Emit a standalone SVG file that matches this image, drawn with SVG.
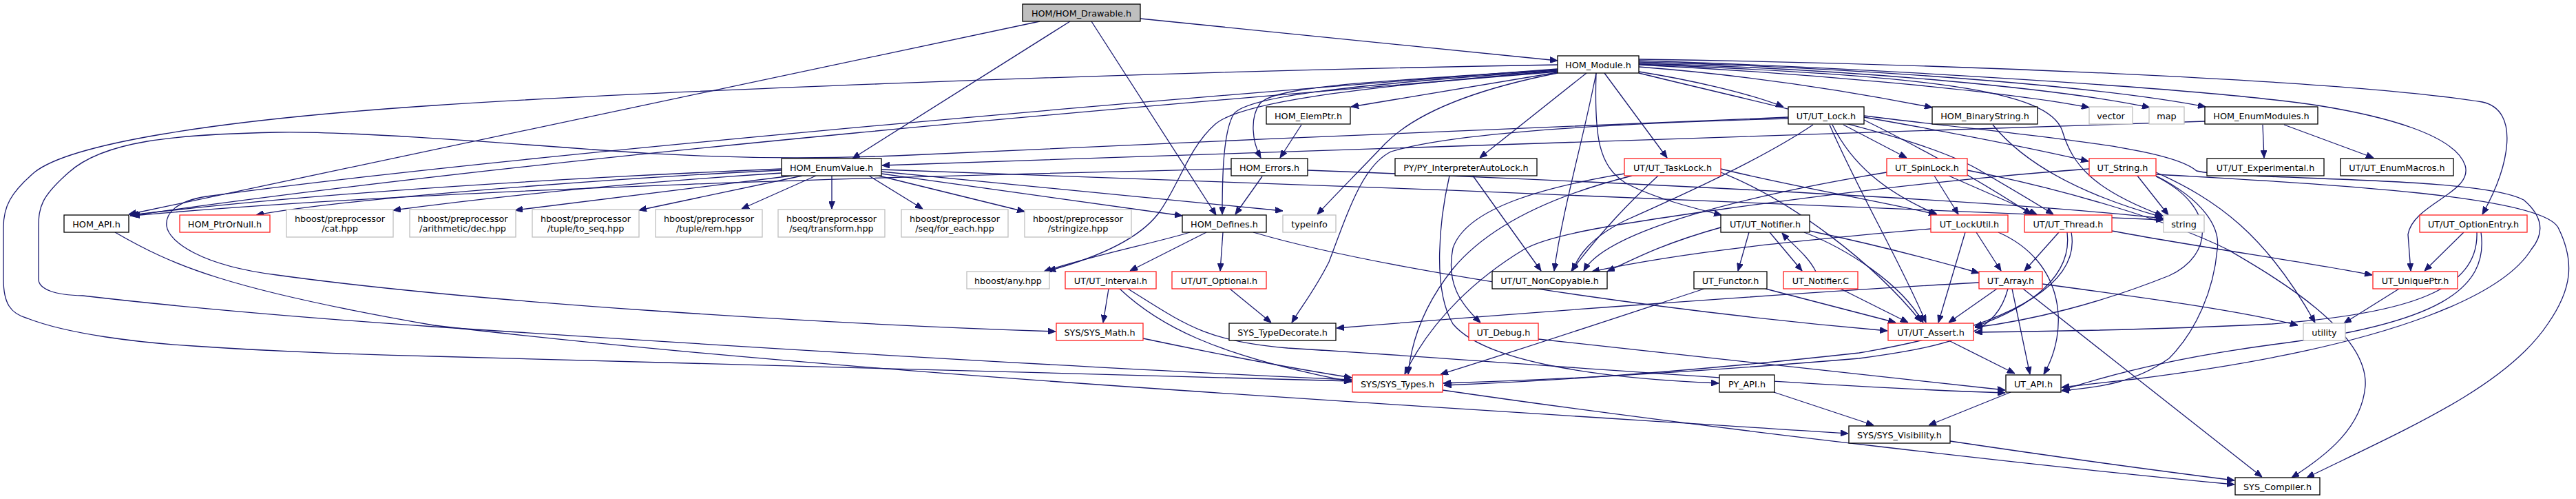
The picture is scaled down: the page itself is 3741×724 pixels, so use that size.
<svg xmlns="http://www.w3.org/2000/svg" width="3741" height="724" viewBox="0 0 3741 724">
<style>
rect{fill:#fff;stroke:#000;stroke-width:1.3}
rect.r{stroke:#ff2020}
rect.g{stroke:#bfbfbf}
rect.root{fill:#bfbfbf}
text{font-family:"DejaVu Sans",sans-serif;font-size:12.8px;fill:#000;text-anchor:middle}
#edges path{fill:none;stroke:#191970;stroke-width:1.3;marker-end:url(#a)}
</style>
<defs>
<marker id="a" viewBox="0 0 11 9" refX="11" refY="4.5" markerWidth="11" markerHeight="9" markerUnits="userSpaceOnUse" orient="auto"><path d="M0,0 L11,4.5 L0,9 z" fill="#191970" stroke="#191970"/></marker>
</defs>
<rect x="0" y="0" width="3741" height="724" style="fill:#fff;stroke:none"/>
<g id="edges">
<path d="M1510,31 L187,311"/>
<path d="M1554,31 L1238,230"/>
<path d="M1585,31 L1766,312"/>
<path d="M1656,27 L2262,88"/>
<path d="M2262,94 C1600,105 900,135 630,153 C300,175 100,210 50,250 C15,280 5,300 5,330 L5,405 C5,440 15,455 40,462 C100,485 200,497 281,502 C400,510 500,514 630,517 L1963,553"/>
<path d="M2262,104 C1700,150 800,225 189,313"/>
<path d="M2262,101 C2000,118 1850,125 1830,150 C1815,170 1818,205 1831,229"/>
<path d="M2262,102 C1950,124 1812,140 1792,165 C1776,190 1775,260 1775,311"/>
<path d="M2262,103 C1950,128 1800,150 1765,180 C1725,215 1712,270 1682,310 C1655,345 1600,372 1522,393"/>
<path d="M2262,105 L1962,155"/>
<path d="M2262,106 C2150,128 2060,160 2012,208 C1972,250 1937,285 1913,311"/>
<path d="M2304,106 L2149,229"/>
<path d="M2318,106 C2300,200 2270,300 2257,393"/>
<path d="M2330,106 L2421,229"/>
<path d="M2318,106 C2315,200 2322,240 2360,265 C2400,287 2460,302 2500,312"/>
<path d="M2380,104 C2450,115 2540,135 2590,155"/>
<path d="M2380,97 C2550,110 2700,135 2806,156"/>
<path d="M2380,94 C2600,105 2900,130 3034,156"/>
<path d="M2380,92 C2700,100 3000,130 3122,156"/>
<path d="M2380,90 C2700,98 3050,125 3203,155"/>
<path d="M2380,86 C2800,92 3400,115 3605,148 C3660,160 3645,240 3605,311"/>
<path d="M2380,88 C2700,98 3200,128 3366,153 C3460,168 3565,195 3580,240 C3592,280 3505,295 3497,340 L3501,393"/>
<path d="M2380,93 C2800,110 2975,130 2995,190 C3010,240 3040,275 3141,313"/>
<path d="M2380,106 C2600,160 2800,200 2880,250 C2940,285 2965,300 2982,311"/>
<path d="M2262,100 C1600,150 700,230 300,285 C255,292 240,310 242,328 C245,350 290,385 402,399 C700,440 1200,470 1533,481"/>
<path d="M1890,181 L1859,229"/>
<path d="M1833,256 L1794,311"/>
<path d="M1788,245 C1500,252 700,268 192,313"/>
<path d="M1899,247 C2300,262 2900,290 3142,317"/>
<path d="M1135,245 C900,255 500,275 190,312"/>
<path d="M1135,247 C900,258 500,288 372,312"/>
<path d="M1135,251 C900,266 700,288 571,305"/>
<path d="M1150,255 L748,305"/>
<path d="M1165,255 L928,305"/>
<path d="M1185,255 L1077,303"/>
<path d="M1208,255 L1208,303"/>
<path d="M1262,255 L1340,303"/>
<path d="M1276,255 L1488,307"/>
<path d="M1280,252 L1717,313"/>
<path d="M1280,249 L1863,306"/>
<path d="M1280,246 C1800,265 2800,300 3142,319"/>
<path d="M1728,337 C1680,352 1580,372 1516,394"/>
<path d="M1752,337 L1641,393"/>
<path d="M1776,337 L1772,393"/>
<path d="M1820,337 C2000,390 2400,450 2741,480"/>
<path d="M167,337 C250,385 330,420 630,472 C1200,540 2000,585 2684,629"/>
<path d="M2597,170 C2300,185 1700,205 1300,226 C1150,232 1000,228 861,217 C700,205 500,190 402,192 C250,195 150,205 100,250 C60,285 56,300 56,330 L56,405 C56,420 80,428 120,429 C300,450 500,465 630,474 C1100,505 1600,535 1963,551"/>
<path d="M2597,172 C2300,180 2100,195 2020,220 C1980,240 1960,300 1930,380 C1910,420 1890,445 1876,468"/>
<path d="M2657,181 C2700,280 2760,380 2797,468"/>
<path d="M2661,181 C2690,240 2740,280 2813,311"/>
<path d="M2677,181 L2769,229"/>
<path d="M2707,170 C2850,195 2950,215 3033,234"/>
<path d="M2707,174 C2800,220 2880,265 2950,311"/>
<path d="M2707,168 C2950,198 3150,212 3190,248 C3250,262 3600,255 3665,290 C3700,320 3690,345 3676,362 C3640,420 3500,500 3100,550 L2994,562"/>
<path d="M2633,181 C2560,230 2450,280 2360,320 C2310,345 2292,370 2284,393"/>
<path d="M2809,255 L2844,311"/>
<path d="M2830,255 L2958,311"/>
<path d="M2740,250 C2500,290 2330,340 2300,393"/>
<path d="M2857,247 C3000,275 3150,320 3235,362 C3300,400 3440,480 3435,560 C3430,620 3380,660 3328,693"/>
<path d="M3104,255 L3149,312"/>
<path d="M3034,245 C2800,262 2600,290 2490,305 C2350,325 2250,340 2213,362 C2150,400 2080,460 2040,543"/>
<path d="M3131,255 C3200,290 3225,330 3220,362 C3215,420 3190,480 3150,520 C3100,555 3050,562 2994,567"/>
<path d="M3131,253 C3400,268 3690,285 3715,330 C3740,380 3735,420 3700,470 C3640,560 3500,620 3350,693"/>
<path d="M3131,250 C3220,290 3290,340 3362,468"/>
<path d="M3131,256 C3220,300 3215,370 3150,400 C3050,440 2950,465 2868,475"/>
<path d="M2499,330 C2420,352 2380,372 2334,394"/>
<path d="M2540,337 L2524,393"/>
<path d="M2570,337 L2617,393"/>
<path d="M2628,335 C2700,350 2800,375 2874,396"/>
<path d="M2620,337 C2680,360 2760,410 2793,468"/>
<path d="M2637,394 C2625,370 2600,352 2588,338"/>
<path d="M2673,419 L2771,468"/>
<path d="M2564,419 L2753,468"/>
<path d="M2475,419 C2350,460 2200,510 2092,543"/>
<path d="M2900,419 L2830,468"/>
<path d="M2922,419 L2948,543"/>
<path d="M2874,410 C2600,425 2200,455 1941,476"/>
<path d="M2938,419 L3285,692"/>
<path d="M2966,412 C3100,430 3250,450 3337,472"/>
<path d="M2916,419 C2900,480 2850,500 2700,520 C2400,545 2200,553 2096,556"/>
<path d="M2854,337 L2815,468"/>
<path d="M2870,337 L2906,393"/>
<path d="M2902,337 C3000,380 3005,480 2968,543"/>
<path d="M2804,332 C2600,350 2450,365 2312,394"/>
<path d="M2990,337 L2940,393"/>
<path d="M3002,337 C3010,400 2950,445 2868,474"/>
<path d="M3008,337 C3020,400 2950,470 2700,512 C2400,545 2200,555 2097,559"/>
<path d="M3067,335 C3200,360 3350,380 3445,399"/>
<path d="M3578,337 L3521,393"/>
<path d="M3597,337 C3600,420 3500,455 3300,470 C3100,480 2950,481 2868,482"/>
<path d="M3603,337 C3615,420 3540,470 3300,500 C3150,520 3050,548 2995,566"/>
<path d="M3484,419 L3404,469"/>
<path d="M2830,494 L2926,542"/>
<path d="M2920,569 L2801,617"/>
<path d="M2576,569 L2721,617"/>
<path d="M2832,640 C3000,665 3150,685 3245,697"/>
<path d="M2095,566 C2500,625 3000,680 3245,703"/>
<path d="M1660,491 C1750,510 1850,530 1963,548"/>
<path d="M1610,419 L1602,468"/>
<path d="M1626,419 C1680,470 1760,515 1963,554"/>
<path d="M1638,419 C1720,470 1750,495 1870,505 C2200,525 2600,560 2912,570"/>
<path d="M1786,419 L1846,468"/>
<path d="M2234,492 C2500,520 2750,550 2912,566"/>
<path d="M2139,255 L2238,393"/>
<path d="M2105,255 C2090,320 2080,420 2110,470 C2160,530 2350,550 2496,556"/>
<path d="M2408,255 C2370,290 2330,330 2282,393"/>
<path d="M2359,252 C2250,270 2130,300 2110,360 C2100,410 2120,440 2150,468"/>
<path d="M2370,255 C2250,285 2160,330 2110,390 C2070,440 2050,490 2045,543"/>
<path d="M2499,245 C2600,270 2720,290 2812,311"/>
<path d="M2499,250 C2600,290 2720,380 2790,467"/>
<path d="M2894,181 C2950,250 3050,290 3140,315"/>
<path d="M3202,176 C2800,190 2000,215 1281,240"/>
<path d="M3286,181 L3288,229"/>
<path d="M3317,181 L3447,229"/>
</g>
<g id="n-drawable"><rect class="root" x="1485" y="6" width="171" height="25"/><text x="1570.5" y="23.5">HOM/HOM_Drawable.h</text></g>
<g id="n-module"><rect x="2262" y="81" width="118" height="25"/><text x="2321" y="98.5">HOM_Module.h</text></g>
<g id="n-elemptr"><rect x="1839" y="155" width="122" height="25"/><text x="1900" y="172.5">HOM_ElemPtr.h</text></g>
<g id="n-utlock"><rect x="2597" y="155" width="110" height="25"/><text x="2652" y="172.5">UT/UT_Lock.h</text></g>
<g id="n-binstr"><rect x="2806" y="155" width="153" height="25"/><text x="2882.5" y="172.5">HOM_BinaryString.h</text></g>
<g id="n-vector"><rect class="g" x="3034" y="155" width="63" height="25"/><text x="3065.5" y="172.5">vector</text></g>
<g id="n-map"><rect class="g" x="3121" y="155" width="51" height="25"/><text x="3146.5" y="172.5">map</text></g>
<g id="n-enummodules"><rect x="3202" y="155" width="164" height="25"/><text x="3284" y="172.5">HOM_EnumModules.h</text></g>
<g id="n-enumvalue"><rect x="1135" y="230" width="145" height="25"/><text x="1207.5" y="247.5">HOM_EnumValue.h</text></g>
<g id="n-errors"><rect x="1788" y="230" width="111" height="25"/><text x="1843.5" y="247.5">HOM_Errors.h</text></g>
<g id="n-pyinterp"><rect x="2026" y="230" width="206" height="25"/><text x="2129" y="247.5">PY/PY_InterpreterAutoLock.h</text></g>
<g id="n-tasklock"><rect class="r" x="2359" y="230" width="140" height="25"/><text x="2429" y="247.5">UT/UT_TaskLock.h</text></g>
<g id="n-spinlock"><rect class="r" x="2740" y="230" width="117" height="25"/><text x="2798.5" y="247.5">UT_SpinLock.h</text></g>
<g id="n-utstring"><rect class="r" x="3034" y="230" width="97" height="25"/><text x="3082.5" y="247.5">UT_String.h</text></g>
<g id="n-experimental"><rect x="3205" y="230" width="170" height="25"/><text x="3290" y="247.5">UT/UT_Experimental.h</text></g>
<g id="n-enummacros"><rect x="3399" y="230" width="164" height="25"/><text x="3481" y="247.5">UT/UT_EnumMacros.h</text></g>
<g id="n-homapi"><rect x="93" y="312" width="94" height="25"/><text x="140" y="329.5">HOM_API.h</text></g>
<g id="n-ptrornull"><rect class="r" x="261" y="312" width="131" height="25"/><text x="326.5" y="329.5">HOM_PtrOrNull.h</text></g>
<g id="n-cat"><rect class="g" x="416" y="304" width="155" height="40"/><text x="493.5" y="321.5">hboost/preprocessor</text><text x="493.5" y="335.5">/cat.hpp</text></g>
<g id="n-dec"><rect class="g" x="595" y="304" width="154" height="40"/><text x="672" y="321.5">hboost/preprocessor</text><text x="672" y="335.5">/arithmetic/dec.hpp</text></g>
<g id="n-toseq"><rect class="g" x="773" y="304" width="155" height="40"/><text x="850.5" y="321.5">hboost/preprocessor</text><text x="850.5" y="335.5">/tuple/to_seq.hpp</text></g>
<g id="n-rem"><rect class="g" x="952" y="304" width="155" height="40"/><text x="1029.5" y="321.5">hboost/preprocessor</text><text x="1029.5" y="335.5">/tuple/rem.hpp</text></g>
<g id="n-transform"><rect class="g" x="1130" y="304" width="155" height="40"/><text x="1207.5" y="321.5">hboost/preprocessor</text><text x="1207.5" y="335.5">/seq/transform.hpp</text></g>
<g id="n-foreach"><rect class="g" x="1309" y="304" width="155" height="40"/><text x="1386.5" y="321.5">hboost/preprocessor</text><text x="1386.5" y="335.5">/seq/for_each.hpp</text></g>
<g id="n-stringize"><rect class="g" x="1488" y="304" width="155" height="40"/><text x="1565.5" y="321.5">hboost/preprocessor</text><text x="1565.5" y="335.5">/stringize.hpp</text></g>
<g id="n-defines"><rect x="1717" y="312" width="122" height="25"/><text x="1778" y="329.5">HOM_Defines.h</text></g>
<g id="n-typeinfo"><rect class="g" x="1863" y="312" width="77" height="25"/><text x="1901.5" y="329.5">typeinfo</text></g>
<g id="n-notifierh"><rect x="2499" y="312" width="129" height="25"/><text x="2563.5" y="329.5">UT/UT_Notifier.h</text></g>
<g id="n-lockutil"><rect class="r" x="2804" y="312" width="112" height="25"/><text x="2860" y="329.5">UT_LockUtil.h</text></g>
<g id="n-thread"><rect class="r" x="2940" y="312" width="127" height="25"/><text x="3003.5" y="329.5">UT/UT_Thread.h</text></g>
<g id="n-string"><rect class="g" x="3142" y="312" width="59" height="25"/><text x="3171.5" y="329.5">string</text></g>
<g id="n-optionentry"><rect class="r" x="3514" y="312" width="156" height="25"/><text x="3592" y="329.5">UT/UT_OptionEntry.h</text></g>
<g id="n-any"><rect class="g" x="1404" y="394" width="120" height="25"/><text x="1464" y="411.5">hboost/any.hpp</text></g>
<g id="n-interval"><rect class="r" x="1547" y="394" width="132" height="25"/><text x="1613" y="411.5">UT/UT_Interval.h</text></g>
<g id="n-optional"><rect class="r" x="1702" y="394" width="137" height="25"/><text x="1770.5" y="411.5">UT/UT_Optional.h</text></g>
<g id="n-noncopyable"><rect x="2167" y="394" width="167" height="25"/><text x="2250.5" y="411.5">UT/UT_NonCopyable.h</text></g>
<g id="n-functor"><rect x="2460" y="394" width="106" height="25"/><text x="2513" y="411.5">UT_Functor.h</text></g>
<g id="n-notifierc"><rect class="r" x="2590" y="394" width="108" height="25"/><text x="2644" y="411.5">UT_Notifier.C</text></g>
<g id="n-array"><rect class="r" x="2874" y="394" width="92" height="25"/><text x="2920" y="411.5">UT_Array.h</text></g>
<g id="n-uniqueptr"><rect class="r" x="3446" y="394" width="123" height="25"/><text x="3507.5" y="411.5">UT_UniquePtr.h</text></g>
<g id="n-sysmath"><rect class="r" x="1534" y="469" width="126" height="25"/><text x="1597" y="486.5">SYS/SYS_Math.h</text></g>
<g id="n-typedecorate"><rect x="1785" y="469" width="155" height="25"/><text x="1862.5" y="486.5">SYS_TypeDecorate.h</text></g>
<g id="n-debug"><rect class="r" x="2133" y="469" width="101" height="25"/><text x="2183.5" y="486.5">UT_Debug.h</text></g>
<g id="n-assert"><rect class="r" x="2742" y="469" width="124" height="25"/><text x="2804" y="486.5">UT/UT_Assert.h</text></g>
<g id="n-utility"><rect class="g" x="3345" y="469" width="61" height="25"/><text x="3375.5" y="486.5">utility</text></g>
<g id="n-systypes"><rect class="r" x="1964" y="544" width="131" height="25"/><text x="2029.5" y="561.5">SYS/SYS_Types.h</text></g>
<g id="n-pyapi"><rect x="2497" y="544" width="80" height="25"/><text x="2537" y="561.5">PY_API.h</text></g>
<g id="n-utapi"><rect x="2913" y="544" width="80" height="25"/><text x="2953" y="561.5">UT_API.h</text></g>
<g id="n-visibility"><rect x="2685" y="618" width="147" height="25"/><text x="2758.5" y="635.5">SYS/SYS_Visibility.h</text></g>
<g id="n-compiler"><rect x="3246" y="693" width="123" height="25"/><text x="3307.5" y="710.5">SYS_Compiler.h</text></g>
</svg>
